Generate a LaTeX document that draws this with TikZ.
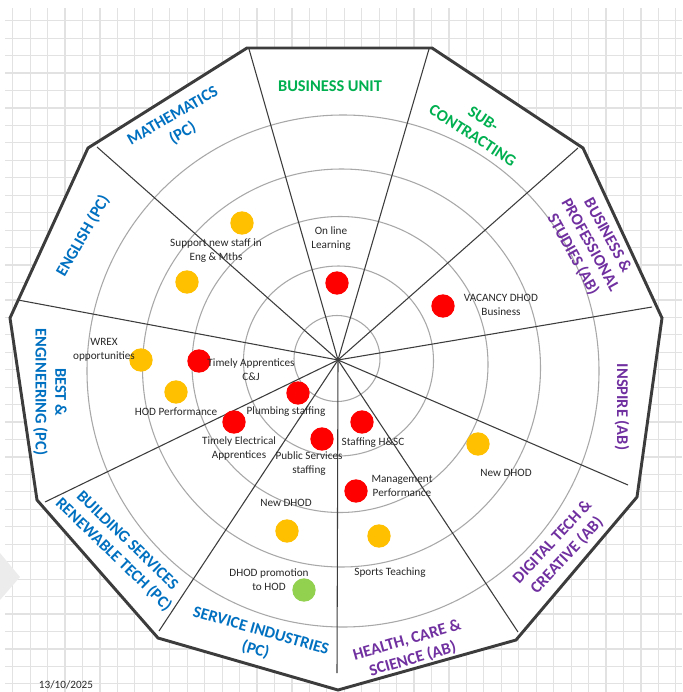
\documentclass[tikz,border=0pt]{standalone}
\usepackage{fontspec}
\setmainfont{Carlito}
\definecolor{sblue}{RGB}{0,112,192}
\definecolor{sgreen}{RGB}{0,176,80}
\definecolor{spurple}{RGB}{112,48,160}
\definecolor{dotred}{RGB}{255,0,0}
\definecolor{dotamber}{RGB}{255,192,0}
\definecolor{dotgreen}{RGB}{146,208,80}
\definecolor{gridgray}{RGB}{226,226,226}
\definecolor{ringgray}{RGB}{168,168,168}
\definecolor{edgegray}{RGB}{60,60,60}
\definecolor{inkgray}{RGB}{40,40,40}
\begin{document}
\begin{tikzpicture}[x=0.75pt,y=-0.75pt,
  gridline/.style={draw=gridgray,line width=0.9pt},
  frame/.style={draw=edgegray,line width=2.2pt,fill=white,line join=miter},
  spoke/.style={draw=edgegray,line width=0.8pt},
  ring/.style={draw=ringgray,line width=0.8pt},
  dot/.style={circle,inner sep=0pt,minimum size=17.5pt,draw=none},
  reddot/.style={dot,fill=dotred},
  amberdot/.style={dot,fill=dotamber},
  greendot/.style={dot,fill=dotgreen},
  note/.style={align=center,inner sep=0pt,text=inkgray,font=\fontsize{8.4}{10.5}\selectfont},
  sector/.style={align=center,inner sep=0pt,font=\bfseries\fontsize{12.3}{14.8}\selectfont},
]
\useasboundingbox (0,0) rectangle (682,692);

% squared paper behind the chart
\begin{scope}
  \clip (5,8) rectangle (682,692);
  \foreach \i in {0,...,38}
    \draw[gridline] ({12.7+17.45*\i},8) -- ({12.7+17.45*\i},692);
  \foreach \j in {0,...,39}
    \draw[gridline] (5,{20.7+17.45*\j}) -- (682,{20.7+17.45*\j});
\end{scope}

% faint mark at the left edge
\fill[gray!15] (0,553) -- (20,577) -- (0,600) -- cycle;

% outline of the eleven-sided chart
\coordinate (v1) at (247,48);
\coordinate (v2) at (432,48);
\coordinate (v3) at (583,148);
\coordinate (v4) at (662,318);
\coordinate (v5) at (637,497);
\coordinate (v6) at (516,640);
\coordinate (v7) at (338,690);
\coordinate (v8) at (158,638);
\coordinate (v9) at (37,500);
\coordinate (v10) at (10,318);
\coordinate (v11) at (88,148);
\draw[frame] (v1) -- (v2) -- (v3) -- (v4) -- (v5) -- (v6) -- (v7) -- (v8)
  -- (v9) -- (v10) -- (v11) -- cycle;

% rings
\draw[ring] (337,358.5) circle[radius=43];
\draw[ring] (338.5,361) circle[radius=95];
\draw[ring] (340,364.5) circle[radius=148];
\draw[ring] (341.5,368) circle[radius=199];
\draw[ring] (343,371) circle[radius=256];

% spokes between the sectors
\coordinate (c) at (338,360);
\coordinate (s1) at (249,49);
\coordinate (s2) at (429,49);
\coordinate (s3) at (578,148);
\coordinate (s4) at (652,307);
\coordinate (s5) at (628,485);
\coordinate (s6) at (518,632);
\coordinate (s7) at (337,673);
\coordinate (s8) at (159,631);
\coordinate (s9) at (45,502);
\coordinate (s10) at (18,300);
\coordinate (s11) at (97,147);
\foreach \s in {s1,s2,s3,s4,s5,s6,s7,s8,s9,s10,s11}
  \draw[spoke] (c) -- (\s);

% sector titles
\node[sector,text=sgreen] (tbu) at (330,86) {BUSINESS UNIT};
\node[sector,text=sgreen,rotate=-33] (tsub) at (478,127) {SUB-\\CONTRACTING};
\node[sector,text=spurple,rotate=-61] (tbps) at (590,245) {BUSINESS \&\\PROFESSIONAL\\STUDIES (AB)};
\node[sector,text=spurple,rotate=-90] (tins) at (622,407) {INSPIRE (AB)};
\node[sector,text=spurple,rotate=47] (tdig) at (560,549) {DIGITAL TECH \&\\CREATIVE (AB)};
\node[sector,text=spurple,rotate=16] (thcs) at (410,650) {HEALTH, CARE \&\\SCIENCE (AB)};
\node[sector,text=sblue,rotate=-16] (tsi) at (258,641) {SERVICE INDUSTRIES\\(PC)};
\node[sector,text=sblue,rotate=-44] (tbs) at (120,548) {BUILDING SERVICES\\RENEWABLE TECH (PC)};
\node[sector,text=sblue,rotate=-90] (tbe) at (50,392) {BEST \&\\ENGINEERING (PC)};
\node[sector,text=sblue,rotate=60] (ten) at (83,236) {ENGLISH (PC)};
\node[sector,text=sblue,rotate=30] (tma) at (178,125) {MATHEMATICS\\(PC)};

% status dots
\node[reddot] (dol) at (337,283) {};
\node[reddot] (dvac) at (443,306) {};
\node[reddot] (dtac) at (199,361) {};
\node[reddot] (dplu) at (298,393) {};
\node[reddot] (dtea) at (234,422) {};
\node[reddot] (dpss) at (322,439) {};
\node[reddot] (dhsc) at (362,422) {};
\node[reddot] (dmgt) at (356,491) {};
\node[amberdot] (dwrex) at (141,360) {};
\node[amberdot] (dhod) at (176,392) {};
\node[amberdot] (dsup1) at (242,223) {};
\node[amberdot] (dsup2) at (187,282) {};
\node[amberdot] (dnew1) at (478,444) {};
\node[amberdot] (dnew2) at (287,531) {};
\node[amberdot] (dspt) at (379,536) {};
\node[greendot] (dpro) at (304,590) {};

% notes beside the dots
\node[note] (nol) at (331,239) {On line\\Learning};
\node[note] (nvac) at (501,305) {VACANCY DHOD\\Business};
\node[note] (ntac) at (251,370) {Timely Apprentices\\C\&J};
\node[note] (nplu) at (286,412) {Plumbing staffing};
\node[note] (ntea) at (239,449) {Timely Electrical\\Apprentices};
\node[note] (npss) at (309,464) {Public Services\\staffing};
\node[note] (nhsc) at (373,443) {Staffing H\&SC};
\node[note] (nmgt) at (402,486) {Management\\Performance};
\node[note] (nwrex) at (104,350) {WREX\\opportunities};
\node[note] (nhod) at (176,412) {HOD Performance};
\node[note] (nsup) at (216,251) {Support new staff in\\Eng \& Mths};
\node[note] (nnew1) at (506,473) {New DHOD};
\node[note] (nnew2) at (286,503) {New DHOD};
\node[note] (nspt) at (390,573) {Sports Teaching};
\node[note] (npro) at (269,580) {DHOD promotion\\to HOD};

% date stamp
\node[note] (date) at (66,685) {13/10/2025};
\end{tikzpicture}
\end{document}
